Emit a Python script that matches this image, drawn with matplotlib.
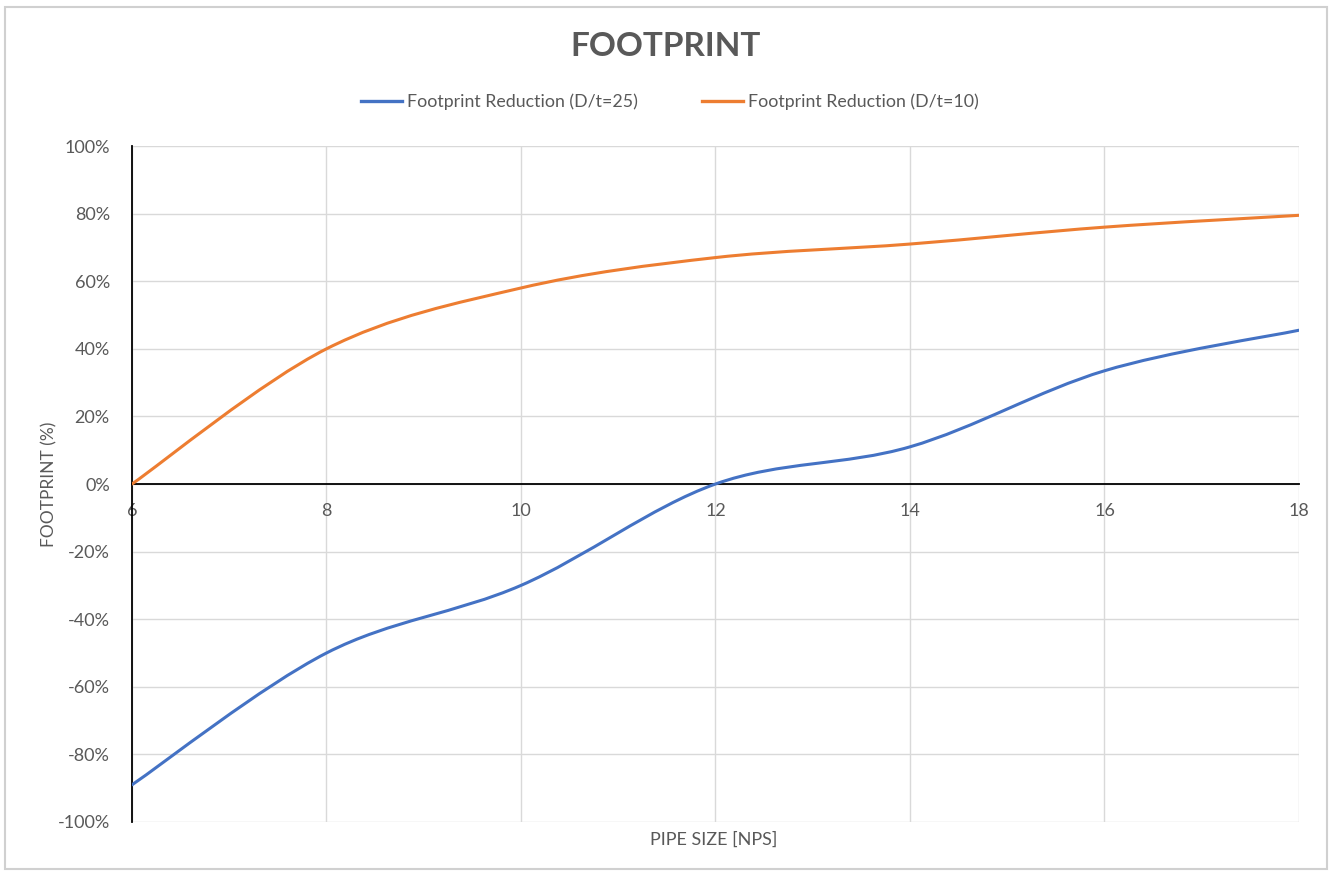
import matplotlib.pyplot as plt
import numpy as np
from matplotlib.path import Path
from matplotlib.patches import PathPatch, Rectangle
from matplotlib.lines import Line2D
from matplotlib.ticker import FuncFormatter

plt.rcParams['font.family'] = ['Lato', 'DejaVu Sans']

pipe_sizes = [6, 8, 10, 12, 14, 16, 18]
reduction_dt25 = [-89, -50, -30, 0, 11, 33.5, 45.5]
reduction_dt10 = [0, 40, 58, 67, 71, 76, 79.5]

series_labels = ['Footprint Reduction (D/t=25)', 'Footprint Reduction (D/t=10)']
series_colors = ['#4472C4', '#ED7D31']
TEXT = '#595959'
GRID = '#D9D9D9'


def smooth_path(xs, ys):
    # Catmull-Rom style bezier through the points, like a spreadsheet "smoothed line"
    pts = np.column_stack([xs, ys]).astype(float)
    verts = [pts[0]]
    codes = [Path.MOVETO]
    n = len(pts)
    for i in range(n - 1):
        p0 = pts[i - 1] if i > 0 else pts[i]
        p1 = pts[i]
        p2 = pts[i + 1]
        p3 = pts[i + 2] if i + 2 < n else pts[i + 1]
        c1 = p1 + (p2 - p0) / 6.0
        c2 = p2 - (p3 - p1) / 6.0
        verts += [c1, c2, p2]
        codes += [Path.CURVE4] * 3
    return Path(verts, codes)


fig = plt.figure(figsize=(13.32, 8.75), dpi=100)
fig.patches.append(Rectangle((0.004, 0.007), 0.992, 0.985, transform=fig.transFigure,
                             fill=False, edgecolor='#D0D0D0', linewidth=1.5))
ax = fig.add_axes([0.0991, 0.0606, 0.8761, 0.7725])

for ys, color in zip([reduction_dt25, reduction_dt10], series_colors):
    ax.add_patch(PathPatch(smooth_path(pipe_sizes, ys), facecolor='none',
                           edgecolor=color, linewidth=2.2, capstyle='round', zorder=3))

ax.set_xlim(6, 18)
ax.set_ylim(-100, 100)
ax.set_xticks(pipe_sizes)
ax.set_yticks(np.arange(-100, 101, 20))
ax.yaxis.set_major_formatter(FuncFormatter(lambda v, _: f'{v:.0f}%'))
ax.grid(True, color=GRID, linewidth=1)
ax.set_axisbelow(True)

for side in ['top', 'right']:
    ax.spines[side].set_visible(False)
ax.spines['bottom'].set_position(('data', 0))
ax.spines['bottom'].set_color('black')
ax.spines['bottom'].set_linewidth(1.3)
ax.spines['left'].set_color('black')
ax.spines['left'].set_linewidth(1.3)
ax.tick_params(axis='both', length=0, labelsize=13, colors=TEXT)
ax.tick_params(axis='x', pad=14)
ax.tick_params(axis='y', pad=16)

ax.yaxis.set_label_coords(-0.064, 0.5)
ax.set_ylabel('FOOTPRINT (%)', fontsize=12.5, color=TEXT)
fig.text(0.5355, 0.040, 'PIPE SIZE [NPS]', ha='center', va='center', fontsize=13, color=TEXT)
fig.text(0.5, 0.947, 'FOOTPRINT', ha='center', va='center', fontsize=24,
         fontweight='bold', color=TEXT)

handles = [Line2D([], [], color=c, linewidth=2.4) for c in series_colors]
fig.legend(handles, series_labels, loc='center', bbox_to_anchor=(0.503, 0.884), ncol=2,
           frameon=False, fontsize=12.8, labelcolor=TEXT, handlelength=2.3,
           columnspacing=3.6, handletextpad=0.3)

fig.savefig('out.png', dpi=100, facecolor='white')
